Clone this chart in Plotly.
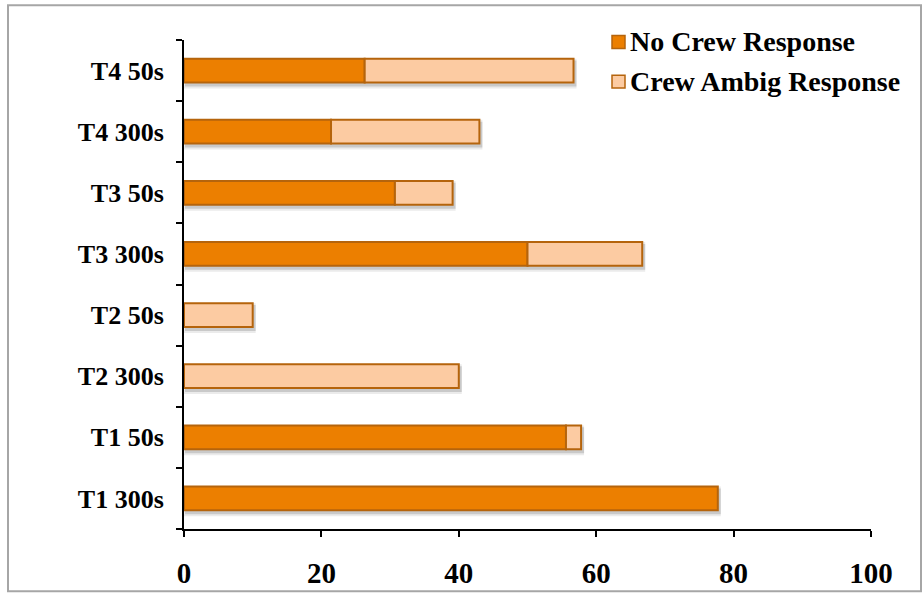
import plotly.graph_objects as go

# Scenario categories, bottom to top
categories = ["T1 300s", "T1 50s", "T2 300s", "T2 50s",
              "T3 300s", "T3 50s", "T4 300s", "T4 50s"]

# Percentage of runs per response type (None = no segment)
no_crew_response = [77.7, 55.6, None, None, 50.0, 30.7, 21.4, 26.3]
crew_ambig_response = [None, 2.2, 40.0, 10.0, 16.7, 8.4, 21.6, 30.4]

x_ticks = [0, 20, 40, 60, 80, 100]
series_names = ["No Crew Response", "Crew Ambig Response"]

FONT = "Liberation Serif"
ORANGE = "#EC7F00"
PEACH = "#FCCBA2"
EDGE = "#B5640C"

W, H = 924, 601
L, R, T, B = 184, 53, 40, 67
pw, ph = W - L - R, H - T - B

BAR_W = 0.39
px_cat = ph / len(categories)      # pixels per category slot
px_val = pw / 100.0                # pixels per x unit

ambig_base = [n if n is not None else 0 for n in no_crew_response]
totals = [(n or 0) + (a or 0) for n, a in zip(no_crew_response, crew_ambig_response)]

fig = go.Figure()

# soft drop shadow under each bar (two faint layers)
for grow, alpha in [(3, 0.08), (1, 0.14)]:
    fig.add_trace(go.Bar(
        y=categories, x=[t + (1 + grow) / px_val for t in totals],
        base=[(2 - grow) / px_val] * len(totals),
        orientation="h", width=BAR_W + 2 * grow / px_cat,
        offset=-BAR_W / 2 - (3 + grow) / px_cat,
        marker=dict(color=f"rgba(0,0,0,{alpha})", line=dict(width=0)),
        showlegend=False, hoverinfo="skip",
    ))

fig.add_trace(go.Bar(
    y=categories, x=no_crew_response, orientation="h", width=BAR_W,
    name=series_names[0], showlegend=False,
    marker=dict(color=ORANGE, line=dict(color=EDGE, width=2)),
))
fig.add_trace(go.Bar(
    y=categories, x=crew_ambig_response, base=ambig_base, orientation="h",
    width=BAR_W, name=series_names[1], showlegend=False,
    marker=dict(color=PEACH, line=dict(color=EDGE, width=2)),
))

# light grey frame around the whole chart
fig.add_shape(type="rect", xref="paper", yref="paper",
              x0=(8 - L) / pw, x1=(921 - L) / pw,
              y0=-(597 - T - ph) / ph, y1=1 + (T - 5) / ph,
              line=dict(color="#A6A6A6", width=2), layer="below")

# legend: small square keys with labels, top right
for i, (name, col) in enumerate(zip(series_names, [ORANGE, PEACH])):
    cy = 42 + 40 * i
    yc = 1 - (cy - T) / ph
    half = 6.5 / ph
    fig.add_shape(type="rect", xref="paper", yref="paper",
                  x0=(612 - L) / pw, x1=(625 - L) / pw,
                  y0=yc - half, y1=yc + half,
                  fillcolor=col, line=dict(color=EDGE, width=1.5))
    fig.add_annotation(xref="paper", yref="paper", x=(628 - L) / pw, y=yc,
                       xanchor="left", yanchor="middle", showarrow=False,
                       text=f"<b>{name}</b>",
                       font=dict(family=FONT, size=28, color="black"))

fig.update_layout(
    width=W, height=H,
    margin=dict(l=L, r=R, t=T, b=B),
    barmode="overlay",
    plot_bgcolor="white", paper_bgcolor="white",
    font=dict(family=FONT, color="black", size=26),
    showlegend=False,
    xaxis=dict(range=[0, 100], tickvals=x_ticks, ticks="outside", ticklen=6,
               tickwidth=2, tickcolor="black", showline=True, linecolor="black",
               linewidth=2, showgrid=False, zeroline=False,
               tickfont=dict(family=FONT, size=29, weight="bold"),
               ticklabelstandoff=11, fixedrange=True),
    yaxis=dict(type="category", categoryorder="array", categoryarray=categories,
               range=[-0.5, len(categories) - 0.5],
               ticks="outside", tickson="boundaries", ticklen=6, tickwidth=2,
               tickcolor="black", showline=True, linecolor="black", linewidth=2,
               showgrid=False, zeroline=False,
               tickfont=dict(family=FONT, size=26, weight="bold"),
               ticklabelstandoff=13, fixedrange=True),
)

fig.write_html("out.html")
